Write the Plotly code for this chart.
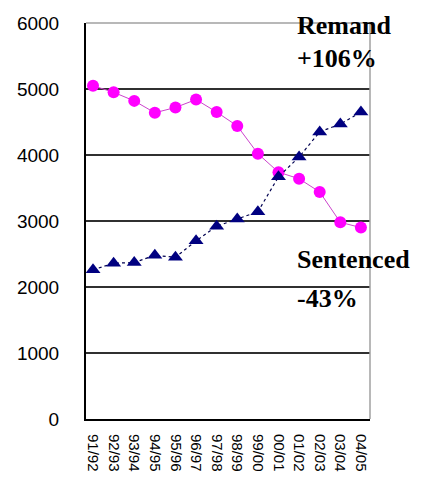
import plotly.graph_objects as go

years = ["91/92", "92/93", "93/94", "94/95", "95/96", "96/97", "97/98",
         "98/99", "99/00", "00/01", "01/02", "02/03", "03/04", "04/05"]
sentenced = [5050, 4950, 4820, 4640, 4720, 4840, 4650,
             4440, 4020, 3740, 3640, 3440, 2980, 2900]
remand = [2260, 2360, 2370, 2480, 2450, 2700, 2920,
          3030, 3140, 3670, 3970, 4350, 4470, 4650]
y_ticks = [0, 1000, 2000, 3000, 4000, 5000, 6000]

fig = go.Figure()
fig.add_trace(go.Scatter(
    x=years, y=sentenced, mode="lines+markers", name="Sentenced",
    line=dict(color="#cc44cc", width=1),
    marker=dict(symbol="circle", size=12, color="#ff00ff"),
))
fig.add_trace(go.Scatter(
    x=years, y=remand, mode="lines+markers", name="Remand",
    line=dict(color="#000050", width=1.2, dash="dot"),
    marker=dict(symbol="triangle-up", size=13, color="#000080"),
))

L, R, T, B = 86, 52, 23, 66
W, H = 422, 485
pw = W - L - R
ph = H - T - B

def px_x(p):
    return (p - L) / pw

def px_y(p):
    return 1 - (p - T) / ph

label_font = dict(family="Liberation Serif", size=26, color="black")
notes = [("<b>Remand</b>", 295, 9), ("<b>+106%</b>", 295, 42),
         ("<b>Sentenced</b>", 295, 243), ("<b>-43%</b>", 295, 282)]
for text, x, y in notes:
    fig.add_annotation(text=text, xref="paper", yref="paper",
                       x=px_x(x), y=px_y(y), xanchor="left", yanchor="top",
                       showarrow=False, font=label_font)

# light frame on the top and right edges
fig.add_shape(type="line", xref="paper", yref="paper", x0=0, x1=1, y0=1, y1=1,
              line=dict(color="#a0a0a0", width=1.5))
fig.add_shape(type="line", xref="paper", yref="paper", x0=1, x1=1, y0=0, y1=1,
              line=dict(color="#a0a0a0", width=1.5))

fig.update_layout(
    width=W, height=H,
    margin=dict(l=L, r=R, t=T, b=B),
    paper_bgcolor="white", plot_bgcolor="white",
    showlegend=False,
    font=dict(family="Liberation Sans", color="black"),
)
fig.update_xaxes(
    type="category", range=[-0.34, 13.44], tickangle=90,
    tickfont=dict(size=15, family="Liberation Sans"),
    showgrid=False, showline=True, linecolor="black", linewidth=2,
    ticks="", ticklabelstandoff=10,
)
fig.update_yaxes(
    range=[0, 6000], tickvals=y_ticks,
    tickfont=dict(size=19, family="Liberation Sans"),
    showgrid=True, gridcolor="#303030", gridwidth=1.5,
    showline=True, linecolor="black", linewidth=2,
    zeroline=False, ticks="", ticklabelstandoff=21,
)

fig.write_html("out.html")
